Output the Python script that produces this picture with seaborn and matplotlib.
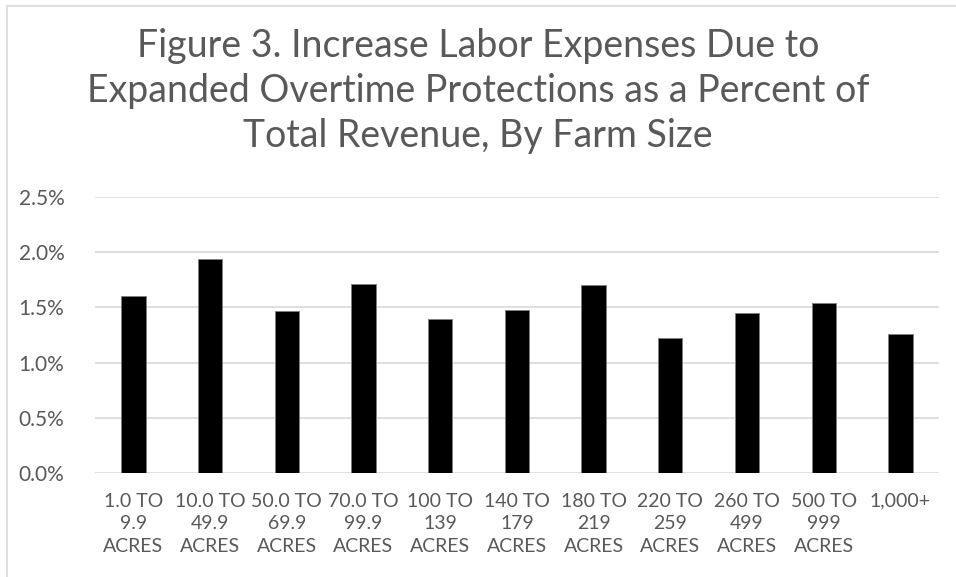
import matplotlib
matplotlib.use("Agg")
import matplotlib.pyplot as plt
import seaborn as sns
from matplotlib.lines import Line2D
from matplotlib.ticker import FuncFormatter

sns.set_style("white")
plt.rcParams['font.family'] = ['Lato', 'DejaVu Sans']

# --------------------------------
# Data (percent of total revenue)
# --------------------------------
farm_sizes = ["1.0 TO\n9.9\nACRES", "10.0 TO\n49.9\nACRES", "50.0 TO\n69.9\nACRES",
              "70.0 TO\n99.9\nACRES", "100 TO\n139\nACRES", "140 TO\n179\nACRES",
              "180 TO\n219\nACRES", "220 TO\n259\nACRES", "260 TO\n499\nACRES",
              "500 TO\n999\nACRES", "1,000+"]
pct_revenue = [1.60, 1.94, 1.47, 1.71, 1.39, 1.48, 1.70, 1.22, 1.45, 1.54, 1.26]

title = ("Figure 3. Increase Labor Expenses Due to\n"
         "Expanded Overtime Protections as a Percent of\n"
         "Total Revenue, By Farm Size")

grid_col = "#d9d9d9"
text_col = "#595959"

fig = plt.figure(figsize=(9.56, 5.77), dpi=100)
ax = fig.add_axes([0.0994, 0.1797, 0.8826, 0.4795])

sns.barplot(x=farm_sizes, y=pct_revenue, color="black", width=0.317,
            edgecolor="#7f7f7f", linewidth=0.6, saturation=1, ax=ax, zorder=3)

ax.set_ylim(0, 2.5)
ax.set_yticks([0, 0.5, 1.0, 1.5, 2.0, 2.5])
ax.yaxis.set_major_formatter(FuncFormatter(lambda v, p: f"{v:.1f}%"))
ax.grid(axis="y", color=grid_col, linewidth=1.2, zorder=0)
ax.set_axisbelow(True)
for s in ax.spines.values():
    s.set_visible(False)
ax.tick_params(axis="both", length=0, colors=text_col)
ax.tick_params(axis="y", pad=22, labelsize=15)
ax.tick_params(axis="x", pad=14, labelsize=14)
for lab in ax.get_xticklabels():
    lab.set_linespacing(1.4)
ax.set_xlabel("")
ax.set_ylabel("")

fig.text(0.5, 0.842, title, ha="center", va="center", fontsize=27,
         color=text_col, linespacing=1.32)

# chart border (top and left edges visible)
fig.add_artist(Line2D([0.0077, 1.0], [0.99, 0.99], color=grid_col, lw=1.2))
fig.add_artist(Line2D([0.0077, 0.0077], [0.0, 0.99], color=grid_col, lw=1.2))

plt.savefig("out.png", dpi=100)
